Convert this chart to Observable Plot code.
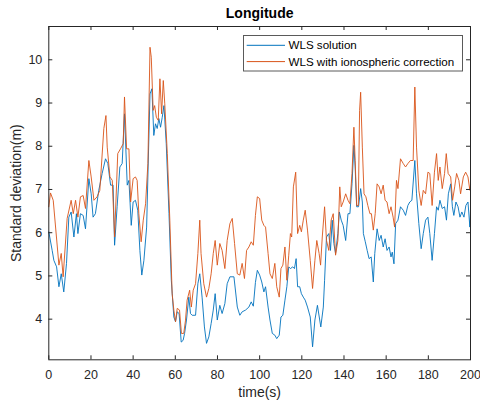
<!DOCTYPE html>
<html><head><meta charset="utf-8">
<script src="https://cdn.jsdelivr.net/npm/d3@7"></script>
<script src="https://cdn.jsdelivr.net/npm/@observablehq/plot@0.6"></script>
<style>body{margin:0;background:#fff} svg{display:block}</style>
</head><body><div id="chart"></div>
<script>
// [time (s), standard deviation (m)]
const wlsSolution = [[0,6.02],[1.6,5.59],[2.4,5.36],[3.7,5.21],[4.8,4.75],[5.9,5.05],[7.1,4.63],[8.4,5.29],[9.5,6.36],[10.6,6.48],[11.9,5.9],[13.1,6.44],[13.8,5.98],[15,6.44],[16.3,6.4],[17.4,6.09],[19,7.25],[20.1,6.9],[21,6.36],[22.1,6.44],[23.7,6.98],[25.3,7.37],[26.9,7.71],[28,7.6],[29.3,7.1],[30.5,7.1],[31.2,5.71],[32.4,6.6],[33.7,7.52],[34.8,7.6],[35.9,8.75],[37.2,7.1],[38,7.21],[39.1,6.17],[40,6.71],[41.1,6.75],[42.2,6.52],[43.2,5.59],[44.1,5.02],[45.1,5.36],[46.4,6.13],[47.1,7.52],[48,9.21],[48.9,9.33],[49.8,8.25],[50.6,8.52],[51.4,8.41],[52.2,8.64],[53,8.44],[53.8,8.67],[54.6,8.94],[55.7,8.06],[57,6.44],[58.1,4.9],[59.3,4.05],[60.1,3.94],[60.9,4.17],[61.8,4.13],[62.8,3.47],[63.7,3.51],[64.4,3.67],[65.3,3.98],[66.4,4.51],[67.2,4.13],[68,4.09],[69.6,4.09],[70.7,4.82],[71.6,5.05],[72.7,4.51],[73.8,3.82],[74.8,3.44],[75.9,3.59],[77,3.9],[78,4.21],[78.9,4.59],[79.9,3.98],[81.1,4.32],[82.2,4.13],[83.5,4.36],[84.6,4.82],[85.9,4.98],[87.8,4.98],[89.4,4.28],[90.6,4.09],[91.7,4.17],[93.3,4.21],[94.9,4.28],[96,4.4],[97,4.3],[98,4.85],[98.9,5.13],[100,5.02],[101,4.86],[102,4.63],[102.8,4.75],[104,4.28],[104.9,3.98],[106,3.67],[107.2,3.63],[108.1,3.55],[109.3,3.63],[110.1,4.05],[111,4.09],[112,4.44],[112.9,4.75],[113.8,5.21],[114.6,5.17],[115.7,5.21],[116.5,5.17],[117.3,5.4],[118,4.75],[119,4.75],[119.8,4.59],[120.7,4.51],[121.6,4.44],[122.7,4.28],[124,4.05],[125.1,3.36],[126.2,3.98],[127.4,4.32],[129,3.82],[130.2,4.28],[130.8,4.9],[131.7,5.9],[132.8,5.98],[133.6,5.59],[134.4,6.29],[135.2,5.75],[136,5.52],[137.1,5.98],[137.8,6.48],[138.7,6.29],[139.6,6.17],[140.8,5.82],[141.9,6.44],[142.8,6.44],[143.8,7.13],[144.7,8.02],[145.3,7.52],[146,6.6],[146.9,6.6],[147.9,7.02],[148.7,6.71],[149.2,5.98],[150.1,5.79],[151,5.59],[151.9,5.4],[152.9,5.44],[153.9,4.86],[154.6,5.52],[155.7,6.09],[156.7,5.82],[157.6,5.94],[158.6,5.67],[159.5,5.86],[160.4,5.59],[161.4,5.67],[162.3,5.44],[162.9,5.55],[163.7,5.28],[164.5,6.21],[165.6,6.29],[166.8,6.6],[168.1,6.52],[169.2,6.4],[170.3,6.63],[171.2,6.71],[172.2,6.75],[173.6,7.67],[174.4,6.9],[175.5,6.21],[176.6,5.63],[177.6,5.98],[178.7,6.29],[179.8,6.36],[180.7,5.98],[181.8,5.36],[182.9,5.98],[183.9,6.6],[184.7,6.52],[185.5,6.75],[186.6,6.56],[187.7,6.6],[188.6,6.29],[189.5,6.9],[190.6,7.13],[191.4,6.6],[192.1,6.4],[193.1,6.71],[194.1,6.6],[195,6.36],[195.9,6.48],[196.9,6.36],[197.8,6.63],[198.8,6.71],[199.7,6.13],[200,6.52]];

const wlsIono = [[0,6.6],[0.8,6.92],[2.1,6.75],[4.8,5.25],[5.9,5.52],[6.8,4.98],[8.7,6.33],[10.6,6.75],[11.6,6.44],[12.7,6.75],[13.8,6.36],[15,6.83],[16.3,6.86],[17.4,6.56],[19,7.67],[20.1,7.29],[21.4,6.75],[22.9,6.83],[24.2,6.98],[26.1,8.41],[27.1,8.71],[27.7,7.98],[29,7.29],[30.1,7.21],[31.2,5.9],[32.7,7.83],[34,7.94],[35.3,8.06],[35.9,9.14],[36.9,7.94],[38,7.94],[38.8,6.71],[40,7.25],[41.1,7.29],[41.9,7.21],[42.7,6.44],[43.8,5.79],[44.8,6.29],[45.9,6.67],[47,7.6],[48,10.29],[48.6,10.06],[49.5,8.83],[50.2,8.94],[51,8.67],[51.9,8.6],[52.7,9.56],[53.5,8.75],[54.3,9.52],[55,8.98],[56.2,7.83],[57.4,6.29],[58.5,4.59],[59.3,4.21],[60.1,3.94],[60.9,4.25],[62,4.21],[62.9,3.67],[64,3.67],[64.8,3.96],[65.6,4.44],[66.8,4.67],[67.6,4.28],[68.5,4.67],[69.6,4.82],[70.7,5.52],[71.6,6.29],[72.2,5.52],[73.5,4.82],[74.8,4.51],[75.9,4.71],[77,5.05],[78,5.52],[78.9,5.82],[79.9,5.25],[81.1,5.75],[82.2,5.59],[83.5,5.17],[84.6,5.82],[85.9,6.21],[87,6.33],[88.1,5.75],[89.4,5.05],[90.6,5.02],[91.7,5.29],[92.8,4.94],[93.8,5.59],[94.9,5.67],[96,5.79],[97,5.71],[98,6.4],[98.9,6.83],[100,6.79],[101,6.29],[102,6.17],[102.8,6.13],[104,5.52],[104.9,5.05],[106,4.94],[107.2,5.29],[108.1,4.75],[109.3,4.51],[110.1,5.17],[111,5.25],[112,5.67],[112.9,4.9],[113.8,5.48],[114.6,5.98],[115.2,5.9],[116,7.06],[117.1,7.4],[118,5.98],[119,6.17],[119.8,6.02],[120.7,6.29],[121.6,6.52],[122.7,6.06],[124,5.36],[125.1,4.71],[126.2,5.36],[127.1,5.82],[128.2,5.52],[128.9,5.25],[129.7,5.9],[130.8,6.6],[131.7,5.82],[132.8,5.59],[133.9,6.29],[134.9,6.44],[136,5.48],[137.1,5.82],[138,7.06],[138.7,6.6],[139.6,6.71],[140.8,6.9],[141.9,6.75],[142.8,6.67],[143.8,7.37],[144.7,8.44],[145.3,7.67],[146,6.63],[146.8,6.63],[147.4,8.83],[147.9,9.25],[148.7,7.98],[149.5,6.9],[150.4,6.83],[151.3,6.63],[152.3,6.44],[153,6.44],[153.9,6.06],[154.8,6.44],[155.7,7.13],[156.7,7.06],[157.6,6.9],[158.6,7.1],[159.5,6.75],[160.4,6.71],[161.4,6.44],[162.3,6.6],[163.3,6.36],[164,6.13],[164.9,7.21],[165.6,7.02],[166.8,7.71],[168.1,7.6],[169.2,7.52],[170.3,7.6],[171.5,7.67],[172.8,7.67],[173.6,9.37],[174.4,7.98],[175.5,6.98],[176.6,6.63],[177.6,6.98],[178.7,6.9],[179.8,7.4],[180.7,7.37],[181.8,6.63],[182.9,7.4],[183.9,7.83],[184.7,7.21],[185.5,7.52],[186.6,7.02],[187.7,7.37],[188.5,7.83],[189.4,7.37],[190.6,7.29],[191.5,6.75],[192.5,7.06],[193.4,7.37],[194.5,7.21],[195.3,6.9],[196.6,7.29],[197.7,7.4],[198.8,7.29],[199.7,6.98],[200,7.1]];

const xTicks = [0,20,40,60,80,100,120,140,160,180,200];
const yTicks = [4,5,6,7,8,9,10];
const seriesNames = ["WLS solution", "WLS with ionospheric correction"];
const seriesColors = ["#0072BD", "#D95319"];
const titleText = "Longitude";
const xLabel = "time(s)";
const yLabel = "Standard deviation(m)";

const W = 480, H = 403;
const mL = 48.3, mR = 10, mT = 26, mB = 43.7;
const fw = W - mL - mR, fh = H - mT - mB;
const tk = 4;
const ink = "#262626";
const font = "Liberation Sans, Arial, Helvetica, sans-serif";

const svg = Plot.plot({
  width: W, height: H,
  marginLeft: mL, marginRight: mR, marginTop: mT, marginBottom: mB,
  style: {fontFamily: font, color: ink, background: "white", overflow: "visible"},
  x: {domain: [0, 200]},
  y: {domain: [3.06, 10.77]},
  marks: [
    Plot.line(wlsSolution, {x: d => d[0], y: d => d[1], stroke: seriesColors[0], strokeWidth: 0.9}),
    Plot.line(wlsIono, {x: d => d[0], y: d => d[1], stroke: seriesColors[1], strokeWidth: 0.9}),
    Plot.frame({stroke: ink, strokeWidth: 1}),
    Plot.tickX(xTicks, {x: d => d, insetTop: fh - tk, stroke: ink}),
    Plot.tickX(xTicks, {x: d => d, insetBottom: fh - tk, stroke: ink}),
    Plot.tickY(yTicks, {y: d => d, insetLeft: fw - tk, stroke: ink}),
    Plot.tickY(yTicks, {y: d => d, insetRight: fw - tk, stroke: ink}),
    Plot.axisX({ticks: xTicks, tickSize: 0, tickPadding: 10, fontSize: 12.5, label: null}),
    Plot.axisY({ticks: yTicks, tickSize: 0, tickPadding: 6.5, fontSize: 12.5, label: null}),
    Plot.text([titleText], {frameAnchor: "top", lineAnchor: "middle", textAnchor: "middle", dy: -12.5, fontWeight: "bold", fontSize: 14, fill: "#000"}),
    Plot.text([xLabel], {frameAnchor: "bottom", lineAnchor: "middle", textAnchor: "middle", dy: 32.5, fontSize: 14, fill: ink}),
    Plot.text([yLabel], {frameAnchor: "left", lineAnchor: "middle", textAnchor: "middle", dx: -32.6, rotate: -90, fontSize: 14, fill: ink})
  ]
});

// legend box (MATLAB style, northeast)
const lg = d3.select(svg).append("g").attr("font-family", font).attr("font-size", 11.6).attr("text-anchor", "start");
lg.append("rect").attr("x", 243.5).attr("y", 35.5).attr("width", 219).attr("height", 35.5)
  .attr("fill", "white").attr("stroke", "#5a5a5a").attr("stroke-width", 1);
seriesNames.forEach((name, i) => {
  const y = 45.3 + i * 16.3;
  lg.append("line").attr("x1", 246.7).attr("x2", 285).attr("y1", y).attr("y2", y)
    .attr("stroke", seriesColors[i]).attr("stroke-width", 1);
  lg.append("text").attr("x", 288.5).attr("y", y).attr("dy", "0.35em").attr("fill", "#000").attr("text-anchor", "start").text(name);
});

document.getElementById("chart").appendChild(svg);
</script>
</body></html>
